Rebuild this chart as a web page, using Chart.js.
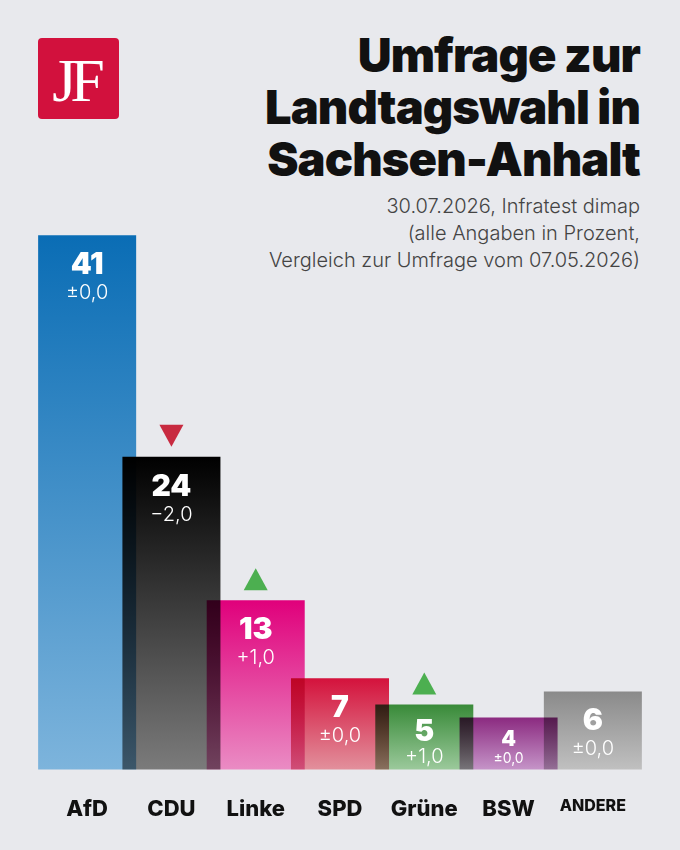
<!DOCTYPE html>
<html lang="de">
<head>
<meta charset="utf-8">
<title>Umfrage zur Landtagswahl in Sachsen-Anhalt</title>
<script src="https://cdn.jsdelivr.net/npm/chart.js@4.4.1/dist/chart.umd.min.js"></script>
<style>
  html, body { margin: 0; padding: 0; background: #e8e9ed; }
  #wrap { position: relative; width: 680px; height: 850px; overflow: hidden; font-family: Inter, Roboto, sans-serif; }
  #chart { position: absolute; left: 0; top: 0; }
  #logo {
    position: absolute; left: 38px; top: 38px; width: 81px; height: 81px;
    background: #d2113d; border-radius: 4px; color: #fff;
    font-family: "Liberation Serif", "DejaVu Serif", serif; font-size: 62px;
    line-height: 84px; text-align: center; letter-spacing: -6px; text-indent: -6px;
  }
  #title {
    position: absolute; right: 40px; top: 29px; margin: 0;
    font-size: 47px; font-weight: 900; line-height: 52px; text-align: right; color: #111;
    letter-spacing: -0.9px;
  }
  #sub {
    position: absolute; right: 40px; top: 193px; margin: 0;
    font-size: 20px; font-weight: 300; line-height: 27px; text-align: right; color: #444;
  }
</style>
</head>
<body>
<div id="wrap">
  <div id="logo">JF</div>
  <h1 id="title">Umfrage zur<br>Landtagswahl in<br>Sachsen-Anhalt</h1>
  <p id="sub">30.07.2026, Infratest dimap<br>(alle Angaben in Prozent,<br>Vergleich zur Umfrage vom 07.05.2026)</p>
  <canvas id="chart" width="680" height="850"></canvas>
</div>
<script>
const parties = ['AfD', 'CDU', 'Linke', 'SPD', 'Grüne', 'BSW', 'ANDERE'];
const shares = [41, 24, 13, 7, 5, 4, 6];
const changes = [0, -2, 1, 0, 1, 0, 0];
const topColors = ['#0a6db5', '#000000', '#e0007b', '#d4123c', '#388a38', '#8b2a80', '#8a8a8a'];
const bottomColors = ['#7db4dc', '#7b7b7b', '#ea8cc4', '#e2909c', '#9bc99b', '#c594c8', '#c0c0c0'];

const fmtChange = v => {
    const s = Math.abs(v).toFixed(1).replace('.', ',');
    if (v === 0) return '±' + s;
    return (v > 0 ? '+' : '−') + s;
};

// gradient per bar, from its own top down to the baseline
const barGradient = c => {
    const chart = c.chart;
    const y = chart.scales.y;
    const i = c.dataIndex;
    if (!y || !chart.chartArea || c.parsed == null) return topColors[i];
    const top = y.getPixelForValue(c.parsed.y);
    const base = y.getPixelForValue(0);
    const g = chart.ctx.createLinearGradient(0, top, 0, base);
    g.addColorStop(0, topColors[i]);
    g.addColorStop(1, bottomColors[i]);
    return g;
};

// overlapping bars are darkened where they cross
const blendPlugin = {
    id: 'blend',
    beforeDatasetsDraw(chart) {
        chart.ctx.save();
        chart.ctx.globalCompositeOperation = 'multiply';
    },
    afterDatasetsDraw(chart) {
        chart.ctx.restore();
    }
};

// value, change and trend marker on each bar
const labelPlugin = {
    id: 'barLabels',
    afterDatasetsDraw(chart) {
        const ctx = chart.ctx;
        const bars = chart.getDatasetMeta(0).data;
        ctx.save();
        ctx.textAlign = 'center';
        ctx.textBaseline = 'middle';
        bars.forEach((bar, i) => {
            const h = bar.base - bar.y;
            const small = h < 60;
            const tight = h < 70;
            ctx.fillStyle = '#fff';
            ctx.font = (small ? '900 21px' : '900 30px') + ' Inter';
            ctx.fillText(String(shares[i]), bar.x, bar.y + (small ? 22 : tight ? 28 : 30));
            ctx.font = (small ? '400 14px' : '300 20px') + ' Inter';
            ctx.fillText(fmtChange(changes[i]), bar.x, bar.y + (small ? 41 : tight ? 53 : 58));

            if (changes[i] !== 0) {
                const up = changes[i] > 0;
                const w = 12, yb = bar.y - 10, yt = bar.y - 32;
                ctx.fillStyle = up ? '#4caf50' : '#c82a40';
                ctx.beginPath();
                if (up) {
                    ctx.moveTo(bar.x - w, yb);
                    ctx.lineTo(bar.x + w, yb);
                    ctx.lineTo(bar.x, yt);
                } else {
                    ctx.moveTo(bar.x - w, yt);
                    ctx.lineTo(bar.x + w, yt);
                    ctx.lineTo(bar.x, yb);
                }
                ctx.closePath();
                ctx.fill();
            }
        });
        ctx.restore();
    }
};

new Chart(document.getElementById('chart'), {
    type: 'bar',
    data: {
        labels: parties,
        datasets: [{
            data: shares,
            backgroundColor: barGradient,
            borderWidth: 0,
            barPercentage: 1.163,
            categoryPercentage: 1,
            clip: false
        }]
    },
    options: {
        responsive: false,
        animation: false,
        devicePixelRatio: 1,
        layout: { padding: { top: 183, bottom: 0, left: 45, right: 45 } },
        plugins: { legend: { display: false }, tooltip: { enabled: false } },
        scales: {
            x: {
                grid: { display: false, drawTicks: false },
                border: { display: false },
                ticks: {
                    color: '#111',
                    padding: 27,
                    font: c => ({ family: 'Inter', weight: '800', size: c.index === 6 ? 16 : 22 })
                }
            },
            y: {
                display: false,
                min: 0,
                max: 45
            }
        }
    },
    plugins: [blendPlugin, labelPlugin]
});
</script>
</body>
</html>
